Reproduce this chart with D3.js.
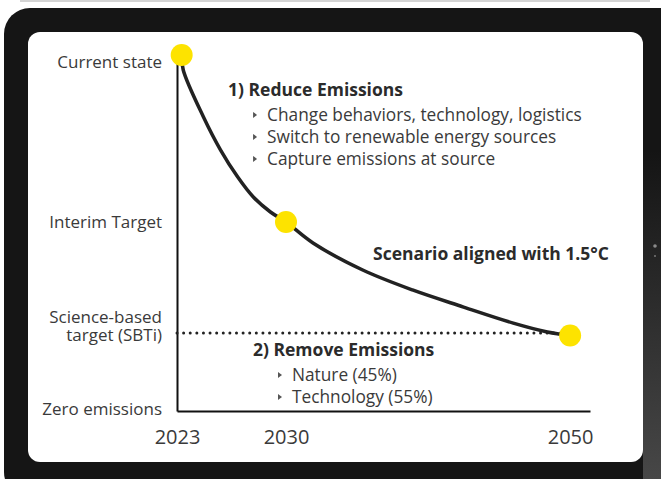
<!DOCTYPE html>
<html>
<head>
<meta charset="utf-8">
<script src="https://cdn.jsdelivr.net/npm/d3@7"></script>
<style>
  body { margin: 0; background: #fff; }
  text { font-family: "Open Sans", sans-serif; }
</style>
</head>
<body>
<div id="chart"></div>
<script>
// time axis ticks
var years = [2023, 2030, 2050];
var axisEndYear = 2051.4;

// vertical levels (0 = zero emissions, 100 = current state)
var levelLabels = [["Current state"], ["Interim Target"], ["Science-based", "target (SBTi)"], ["Zero emissions"]];
var levelValues = [100, 53.1, 21.9, 0];

// pathway
var pathYears  = [2023.3, 2023.4, 2024.7, 2025.8, 2026.9, 2027.9, 2029.0, 2030, 2031.9, 2035.4, 2038.9, 2042.5, 2046.0, 2048.4, 2050];
var pathValues = [100, 95.8, 82.6, 73.3, 65.7, 60.1, 55.9, 53.1, 47.2, 39.6, 34.0, 29.2, 24.7, 22.2, 21.2];

// milestone dots
var milestoneYears  = [2023.3, 2030, 2050];
var milestoneValues = [100, 53.1, 21.2];

// annotations
var reduceTitle = "1) Reduce Emissions";
var reduceItems = ["Change behaviors, technology, logistics", "Switch to renewable energy sources", "Capture emissions at source"];
var removeTitle = "2) Remove Emissions";
var removeItems = ["Nature (45%)", "Technology (55%)"];
var scenarioLabel = "Scenario aligned with 1.5\u00B0C";

var W = 661, H = 479;

var svg = d3.select("#chart").append("svg")
    .attr("width", W)
    .attr("height", H);

//----- tablet frame
var defs = svg.append("defs");
var grad = defs.append("linearGradient")
    .attr("id", "bezel")
    .attr("x1", 0).attr("y1", 0).attr("x2", 0).attr("y2", 1);
grad.append("stop").attr("offset", "0%").attr("stop-color", "#141414");
grad.append("stop").attr("offset", "100%").attr("stop-color", "#474747");

svg.append("rect")
    .attr("x", 20).attr("y", 0)
    .attr("width", 630).attr("height", 2)
    .attr("fill", "#d4d4d4");

svg.append("rect")
    .attr("x", 4).attr("y", 8)
    .attr("width", 690).attr("height", 490)
    .attr("rx", 26)
    .attr("fill", "#151515");

svg.append("rect")
    .attr("x", 643).attr("y", 150)
    .attr("width", 18).attr("height", 329)
    .attr("fill", "url(#bezel)");

svg.append("rect")
    .attr("x", 28).attr("y", 32)
    .attr("width", 615).attr("height", 430)
    .attr("rx", 12)
    .attr("fill", "#fff");

// camera dots on the bezel
svg.append("circle").attr("cx", 655).attr("cy", 246).attr("r", 1.8).attr("fill", "#8a8a8a");
svg.append("circle").attr("cx", 655).attr("cy", 256).attr("r", 1).attr("fill", "#777");

//----- scales
var x = d3.scaleLinear()
    .domain([2023, 2030, axisEndYear])
    .range([177, 286, 590]);

var y = d3.scaleLinear()
    .domain([0, 100])
    .range([411, 55]);

var g = svg.append("g");

//x axis
var xAxis = g.append("g")
    .attr("transform", "translate(0," + y(0) + ")")
    .call(d3.axisBottom(x)
        .tickValues(years)
        .tickSize(0)
        .tickSizeOuter(0)
        .tickPadding(19)
        .tickFormat(d3.format("d")));
xAxis.select(".domain").attr("stroke", "#111").attr("stroke-width", 2);
xAxis.selectAll("text")
    .style("font-size", "20px")
    .attr("fill", "#3a3a3a")
    .attr("font-family", "Open Sans, sans-serif");

//y axis
var yAxis = g.append("g")
    .attr("transform", "translate(" + x(2023) + ",0)")
    .call(d3.axisLeft(y)
        .tickValues(levelValues)
        .tickSize(0)
        .tickSizeOuter(0)
        .tickFormat(""));
yAxis.select(".domain").attr("stroke", "#111").attr("stroke-width", 2);

// y labels (can be multi-line, one text per line)
var lineH = 18;
levelValues.forEach(function(v, i) {
  var lines = levelLabels[i];
  var shift = (i === 0) ? 7 : (lines.length > 1 ? -7 - (lines.length - 1) * lineH / 2 : -2 * (v === 0));
  lines.forEach(function(l, j) {
    g.append("text")
        .attr("x", x(2023) - 15)
        .attr("y", y(v) + shift + j * lineH)
        .attr("dy", "0.35em")
        .attr("text-anchor", "end")
        .attr("fill", "#3a3a3a")
        .style("font-size", "17px")
        .text(l);
  });
});

//----- SBTi dotted line
g.append("line")
    .attr("x1", x(2023)).attr("x2", x(2050))
    .attr("y1", y(levelValues[2])).attr("y2", y(levelValues[2]))
    .attr("stroke", "#222")
    .attr("stroke-width", 3)
    .attr("stroke-linecap", "round")
    .attr("stroke-dasharray", "0.01 6.6");

//----- pathway curve
var pathData = pathYears.map(function(d, i) { return {year: d, value: pathValues[i]}; });
var valueline = d3.line()
    .x(function(d) { return x(d.year); })
    .y(function(d) { return y(d.value); })
    .curve(d3.curveCatmullRom.alpha(0.5));

g.append("path")
    .datum(pathData)
    .attr("fill", "none")
    .attr("stroke", "#222")
    .attr("stroke-width", 3.5)
    .attr("d", valueline);

//----- milestone dots
g.selectAll(".milestone")
    .data(milestoneYears)
  .enter().append("circle")
    .attr("class", "milestone")
    .attr("cx", function(d) { return x(d); })
    .attr("cy", function(d, i) { return y(milestoneValues[i]); })
    .attr("r", 11)
    .attr("fill", "#fde300");

//----- annotation blocks
function drawBlock(title, items, px, py) {
  g.append("text")
      .attr("x", px).attr("y", py)
      .attr("dy", "0.35em")
      .attr("fill", "#2b2b2b")
      .style("font-size", "17.5px")
      .style("font-weight", "bold")
      .text(title);
  items.forEach(function(item, i) {
    var cy = py + 25 + i * 22;
    g.append("path")
        .attr("d", "M" + (px + 25) + "," + (cy - 3) + "L" + (px + 29) + "," + cy + "L" + (px + 25) + "," + (cy + 3) + "Z")
        .attr("fill", "#555");
    g.append("text")
        .attr("x", px + 39).attr("y", cy)
        .attr("dy", "0.35em")
        .attr("fill", "#3a3a3a")
        .style("font-size", "17.3px")
        .text(item);
  });
}

drawBlock(reduceTitle, reduceItems, x(2026.28), y(90.2));
drawBlock(removeTitle, removeItems, x(2027.88), y(17.1));

g.append("text")
    .attr("x", x(2036.13)).attr("y", y(44.1))
    .attr("dy", "0.35em")
    .attr("fill", "#2b2b2b")
    .style("font-size", "17.5px")
    .style("font-weight", "bold")
    .text(scenarioLabel);
</script>
</body>
</html>
